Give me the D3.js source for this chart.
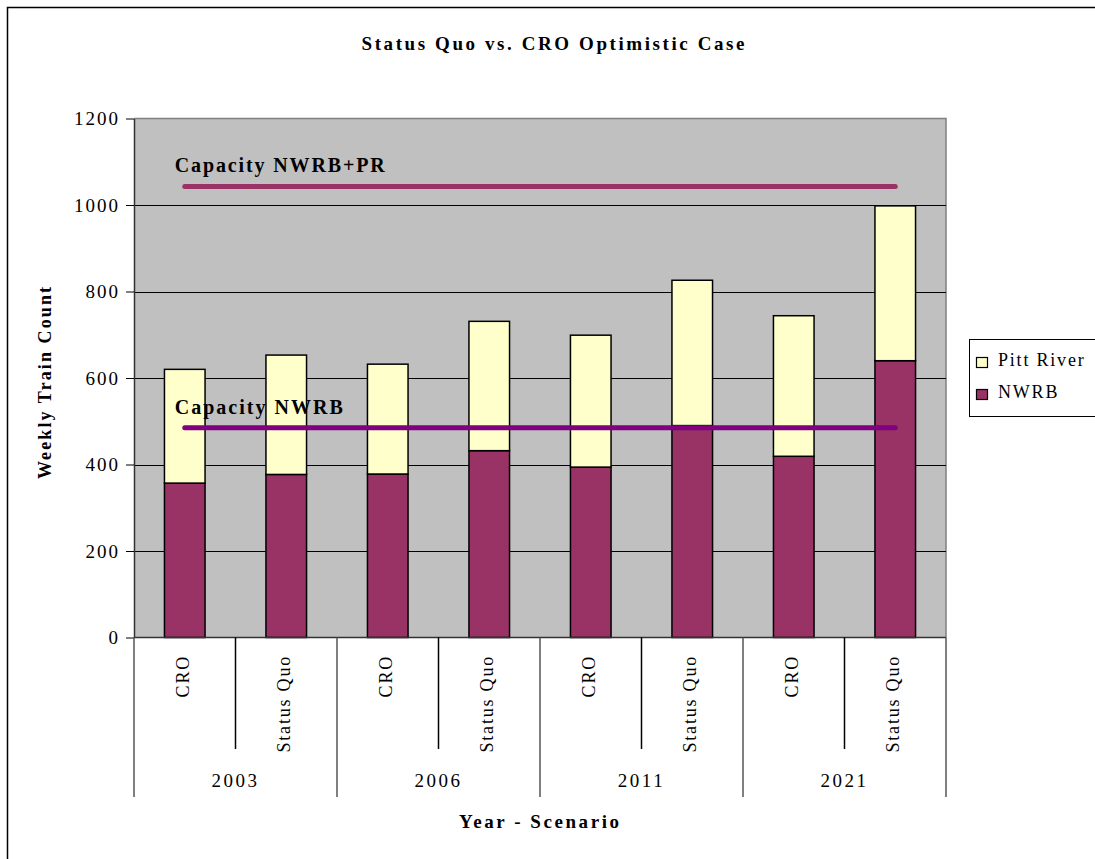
<!DOCTYPE html>
<html>
<head>
<meta charset="utf-8">
<script src="https://cdn.jsdelivr.net/npm/d3@7"></script>
<style>
  body { margin: 0; background: #ffffff; }
  svg { display: block; }
  text { font-family: "Liberation Serif", "Times New Roman", serif; fill: #000; }
</style>
</head>
<body>
<svg id="chart" width="1095" height="859"></svg>
<script>
// Weekly train counts by year and scenario
const years = ["2003", "2006", "2011", "2021"];
const scenarios = ["CRO", "Status Quo"];
const nwrb = [357, 377, 378, 432, 394, 490, 419, 640];
const pittRiver = [263, 276, 254, 299, 305, 336, 325, 358];
const capacityTotal = 1043;   // Capacity NWRB+PR
const capacityNWRB = 485;     // Capacity NWRB
const yTicks = [0, 200, 400, 600, 800, 1000, 1200];
const legendNames = ["Pitt River", "NWRB"];

const colors = { "NWRB": "#993366", "Pitt River": "#FFFFCC" };

const svg = d3.select("#chart");

// Category rows (year x scenario)
const rows = [];
years.forEach((yr, i) => scenarios.forEach((sc, j) => {
  const k = i * scenarios.length + j;
  rows.push({ key: yr + "|" + sc, year: yr, scenario: sc, "NWRB": nwrb[k], "Pitt River": pittRiver[k] });
}));

const plot = { left: 134, right: 946, top: 118.5, bottom: 637.5 };

const x = d3.scaleBand()
  .domain(rows.map(r => r.key))
  .range([plot.left, plot.right])
  .paddingInner(0.6)
  .paddingOuter(0.3);
const step = x.step();

const y = d3.scaleLinear().domain([0, 1200]).range([plot.bottom, plot.top]);

// outer chart frame
svg.append("rect")
  .attr("x", 7.5).attr("y", 7.5)
  .attr("width", 1200).attr("height", 1000)
  .attr("fill", "none").attr("stroke", "#000").attr("stroke-width", 1.5);

// title
svg.append("text")
  .attr("x", 553).attr("y", 50)
  .attr("text-anchor", "middle")
  .attr("font-size", 19).attr("font-weight", "bold")
  .attr("textLength", 383).attr("lengthAdjust", "spacing")
  .text("Status Quo vs. CRO Optimistic Case");

// plot area background
svg.append("rect")
  .attr("x", plot.left).attr("y", plot.top)
  .attr("width", plot.right - plot.left).attr("height", plot.bottom - plot.top)
  .attr("fill", "#C0C0C0");

// top & right border of the plot area
svg.append("path")
  .attr("d", `M${plot.left},${plot.top}H${plot.right}V${plot.bottom}`)
  .attr("fill", "none").attr("stroke", "#808080").attr("stroke-width", 1.5);

// horizontal gridlines
svg.append("g").selectAll("line")
  .data(yTicks.filter(t => t > 0 && t < 1200))
  .join("line")
  .attr("x1", plot.left).attr("x2", plot.right)
  .attr("y1", d => Math.round(y(d)) + 0.5).attr("y2", d => Math.round(y(d)) + 0.5)
  .attr("stroke", "#000").attr("stroke-width", 1);

// value axis
const yAxis = svg.append("g")
  .attr("transform", `translate(${plot.left},0)`)
  .call(d3.axisLeft(y).tickValues(yTicks).tickFormat(d3.format("d"))
    .tickSize(8).tickSizeOuter(0).tickPadding(8));
yAxis.select(".domain").attr("stroke", "#333").attr("stroke-width", 1.5);
yAxis.selectAll(".tick line").attr("stroke", "#000");
yAxis.selectAll(".tick text")
  .attr("font-family", "Liberation Serif, serif")
  .attr("font-size", 19)
  .attr("letter-spacing", 2)
  .attr("dx", 2)
  .attr("fill", "#000");

// value axis title
svg.append("text")
  .attr("transform", `translate(51,${(plot.top + plot.bottom) / 2 + 5}) rotate(-90)`)
  .attr("text-anchor", "middle")
  .attr("font-size", 18).attr("font-weight", "bold")
  .attr("textLength", 192).attr("lengthAdjust", "spacing")
  .text("Weekly Train Count");

// stacked bars
const stack = d3.stack().keys(["NWRB", "Pitt River"]);
const series = stack(rows);

svg.append("g").selectAll("g")
  .data(series)
  .join("g")
  .attr("fill", d => colors[d.key])
  .selectAll("rect")
  .data(d => d)
  .join("rect")
  .attr("x", d => x(d.data.key))
  .attr("width", x.bandwidth())
  .attr("y", d => y(d[1]))
  .attr("height", d => y(d[0]) - y(d[1]))
  .attr("stroke", "#000").attr("stroke-width", 1.5);

// category axis baseline
svg.append("line")
  .attr("x1", plot.left).attr("x2", plot.right)
  .attr("y1", plot.bottom).attr("y2", plot.bottom)
  .attr("stroke", "#333").attr("stroke-width", 1.5);

// category separators: short between scenarios, long between years
const bounds = d3.range(rows.length + 1);
svg.append("g").selectAll("line")
  .data(bounds)
  .join("line")
  .attr("x1", i => plot.left + i * step).attr("x2", i => plot.left + i * step)
  .attr("y1", plot.bottom)
  .attr("y2", i => (i % scenarios.length === 0) ? 797 : 749)
  .attr("stroke", i => (i % scenarios.length === 0) ? "#555" : "#000")
  .attr("stroke-width", 1.5);

// scenario labels
svg.append("g").selectAll("text")
  .data(rows)
  .join("text")
  .attr("transform", d => `translate(${x(d.key) + x.bandwidth() / 2 - 2},655) rotate(-90)`)
  .attr("text-anchor", "end")
  .attr("dominant-baseline", "central")
  .attr("font-size", 18)
  .attr("letter-spacing", 1.8)
  .text(d => d.scenario);

// year labels
svg.append("g").selectAll("text")
  .data(years)
  .join("text")
  .attr("x", (d, i) => plot.left + (i * scenarios.length + scenarios.length / 2) * step)
  .attr("y", 787)
  .attr("text-anchor", "middle")
  .attr("font-size", 19)
  .attr("letter-spacing", 2.5)
  .text(d => d);

// category axis title
svg.append("text")
  .attr("x", 539).attr("y", 828)
  .attr("text-anchor", "middle")
  .attr("font-size", 19).attr("font-weight", "bold")
  .attr("textLength", 160).attr("lengthAdjust", "spacing")
  .text("Year - Scenario");

// capacity lines across all categories
const capLines = [
  { name: "Capacity NWRB+PR", value: capacityTotal, color: "#993366", len: 210 },
  { name: "Capacity NWRB", value: capacityNWRB, color: "#800080", len: 168 }
];
const line = d3.line()
  .x(d => x(d.key) + x.bandwidth() / 2)
  .y(d => y(d.v));

capLines.forEach(c => {
  svg.append("path")
    .datum(rows.map(r => ({ key: r.key, v: c.value })))
    .attr("d", line)
    .attr("fill", "none")
    .attr("stroke", c.color)
    .attr("stroke-width", 5)
    .attr("stroke-linecap", "round");
  svg.append("text")
    .attr("x", x(rows[0].key) + x.bandwidth() / 2 - 10)
    .attr("y", y(c.value) - 14)
    .attr("font-size", 20).attr("font-weight", "bold")
    .attr("textLength", c.len).attr("lengthAdjust", "spacing")
    .text(c.name);
});

// legend
const legend = svg.append("g");
legend.append("rect")
  .attr("x", 969.5).attr("y", 339.5)
  .attr("width", 140).attr("height", 77)
  .attr("fill", "#fff").attr("stroke", "#000").attr("stroke-width", 1);
legendNames.forEach((name, i) => {
  const gy = 357 + i * 32;
  legend.append("rect")
    .attr("x", 976.5).attr("y", gy + 0.5)
    .attr("width", 11).attr("height", 10)
    .attr("fill", colors[name]).attr("stroke", "#000").attr("stroke-width", 1.2);
  legend.append("text")
    .attr("x", 998).attr("y", gy + 9)
    .attr("font-size", 18)
    .attr("letter-spacing", 1.8)
    .text(name);
});
</script>
</body>
</html>
